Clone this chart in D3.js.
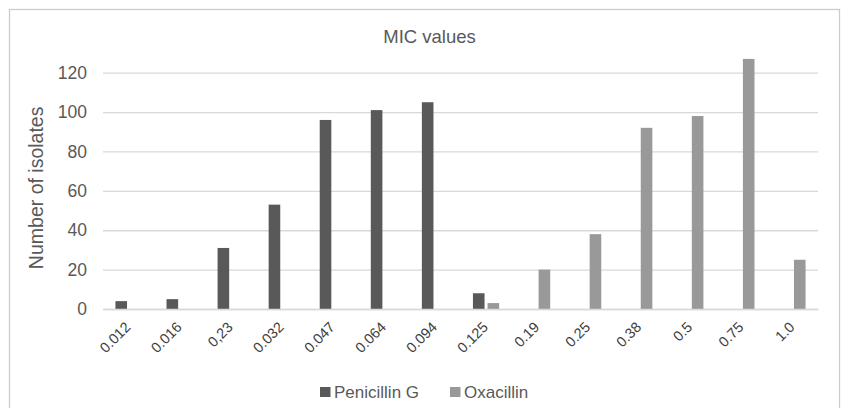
<!DOCTYPE html>
<html>
<head>
<meta charset="utf-8">
<script src="https://cdn.jsdelivr.net/npm/d3@7"></script>
<style>
  html, body { margin: 0; padding: 0; background: #fff; }
  svg { display: block; }
</style>
</head>
<body>
<svg id="chart" width="841" height="408"></svg>
<script>
const categories = ["0.012", "0.016", "0,23", "0.032", "0.047", "0.064", "0.094", "0.125", "0.19", "0.25", "0.38", "0.5", "0.75", "1.0"];
const penicillinG = [4, 5, 31, 53, 96, 101, 105, 8, null, null, null, null, null, null];
const oxacillin = [null, null, null, null, null, null, null, 3, 20, 38, 92, 98, 127, 25];
const seriesNames = ["Penicillin G", "Oxacillin"];
const seriesColors = ["#595959", "#999999"];
const yTicks = [0, 20, 40, 60, 80, 100, 120];
const chartTitle = "MIC values";
const yTitle = "Number of isolates";

const svg = d3.select("#chart");
const W = 841, H = 408;
const margin = { left: 103, right: 23, top: 72.7, bottom: 99 };
const plotW = W - margin.left - margin.right;
const plotH = H - margin.top - margin.bottom;
const textColor = "#595959";
const font = "'Liberation Sans', Arial, sans-serif";

// outer border
svg.append("rect")
  .attr("x", 9.5).attr("y", 9.5)
  .attr("width", 830).attr("height", 410)
  .attr("fill", "none").attr("stroke", "#cccccc").attr("stroke-width", 1.3);

const g = svg.append("g").attr("transform", `translate(${margin.left},${margin.top})`);

const x = d3.scaleBand().domain(categories).range([0, plotW]).paddingInner(0).paddingOuter(0);
const y = d3.scaleLinear().domain([0, 120]).range([plotH, 0]);

// gridlines
const yAxis = d3.axisLeft(y).tickValues(yTicks).tickSize(-plotW).tickPadding(16);
const ya = g.append("g").call(yAxis);
ya.select(".domain").remove();
ya.selectAll(".tick line").attr("stroke", "#d9d9d9").attr("stroke-width", 1.3);
ya.selectAll(".tick text")
  .attr("fill", textColor).style("font-family", font).style("font-size", "17.5px")
  .attr("x", -16);

// series bars
const series = [penicillinG, oxacillin];
const barW = 11.6;
const offsets = [-7.3, 7.3];
series.forEach((vals, si) => {
  g.append("g").selectAll("rect")
    .data(vals.map((v, i) => ({ v, c: categories[i] })).filter(d => d.v != null))
    .join("rect")
    .attr("x", d => x(d.c) + x.bandwidth() / 2 + offsets[si] - barW / 2)
    .attr("width", barW)
    .attr("y", d => y(d.v))
    .attr("height", d => y(0) - y(d.v))
    .attr("fill", seriesColors[si]);
});

// x axis
const xAxis = d3.axisBottom(x).tickSize(0).tickPadding(0);
const xa = g.append("g").attr("transform", `translate(0,${plotH})`).call(xAxis);
xa.select(".domain").attr("stroke", "#d9d9d9").attr("stroke-width", 1.3);
xa.selectAll(".tick text")
  .attr("fill", "#404040").style("font-family", font).style("font-size", "14.5px")
  .attr("text-anchor", "end")
  .attr("dy", null).attr("y", 0)
  .attr("transform", "translate(3,19) rotate(-45)");

// title
svg.append("text")
  .attr("x", margin.left + plotW / 2 - 31).attr("y", 43)
  .attr("text-anchor", "middle")
  .attr("fill", textColor).style("font-family", font).style("font-size", "18.5px")
  .text(chartTitle);

// y title
svg.append("text")
  .attr("transform", `translate(43,${margin.top + plotH / 2 - 3}) rotate(-90)`)
  .attr("text-anchor", "middle")
  .attr("fill", textColor).style("font-family", font).style("font-size", "19.5px")
  .text(yTitle);

// legend
const legendX = [320, 450];
seriesNames.forEach((name, i) => {
  const lg = svg.append("g").attr("transform", `translate(${legendX[i]},387)`);
  lg.append("rect").attr("width", 10.5).attr("height", 10).attr("fill", seriesColors[i]);
  lg.append("text").attr("x", 14).attr("y", 11)
    .attr("fill", textColor).style("font-family", font).style("font-size", "17px")
    .text(name);
});
</script>
</body>
</html>
